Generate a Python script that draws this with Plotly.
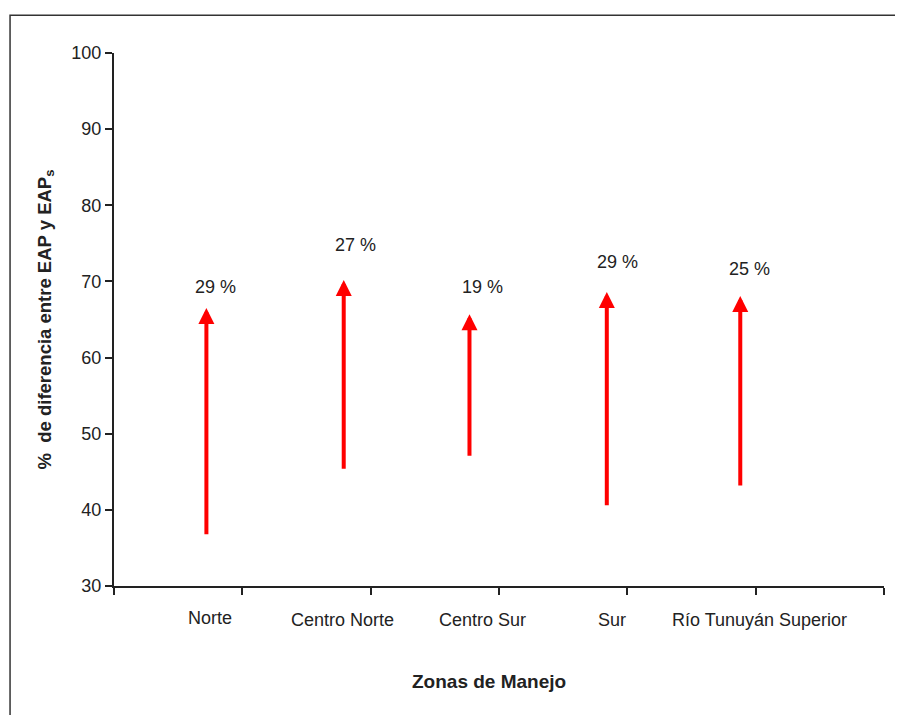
import plotly.graph_objects as go

# Data
zones = ["Norte", "Centro Norte", "Centro Sur", "Sur", "Río Tunuyán Superior"]
zone_label_x = [0.75, 1.78, 2.87, 3.88, 5.03]
arrow_x = [0.72, 1.79, 2.77, 3.84, 4.88]
start_vals = [36.6, 45.2, 46.9, 40.4, 43.0]
end_vals = [66.5, 70.2, 65.7, 68.6, 68.1]
pct_labels = ["29 %", "27 %", "19 %", "29 %", "25 %"]
pct_label_x = [0.79, 1.88, 2.87, 3.92, 4.95]
pct_label_y = [69.3, 74.8, 69.3, 72.6, 71.6]
y_ticks = [30, 40, 50, 60, 70, 80, 90, 100]

FONT = "Liberation Sans, Arial, sans-serif"
TXT = "#222222"

fig = go.Figure()
# invisible trace to establish axes
fig.add_trace(go.Scatter(x=arrow_x, y=end_vals, mode="markers",
                         marker=dict(opacity=0), hoverinfo="skip", showlegend=False))

annotations = []
for xv, s, e in zip(arrow_x, start_vals, end_vals):
    annotations.append(dict(x=xv, y=e, ax=xv, ay=s, xref="x", yref="y",
                            axref="x", ayref="y", text="", showarrow=True,
                            arrowhead=2, arrowsize=0.8, arrowwidth=4,
                            arrowcolor="#ff0000", standoff=0, startstandoff=0))
for xv, yv, t in zip(pct_label_x, pct_label_y, pct_labels):
    annotations.append(dict(x=xv, y=yv, xref="x", yref="y", text=t, showarrow=False,
                            font=dict(family=FONT, size=18, color=TXT)))
for i, (xv, t) in enumerate(zip(zone_label_x, zones)):
    annotations.append(dict(x=xv, y=-0.060 if i == 0 else -0.064, xref="x", yref="paper",
                            yanchor="middle", xanchor="center",
                            text=t, showarrow=False,
                            font=dict(family=FONT, size=18, color=TXT)))
annotations.append(dict(x=0.487, y=-0.180, xref="paper", yref="paper",
                        xanchor="center", yanchor="middle",
                        text="<b>Zonas de Manejo</b>", showarrow=False,
                        font=dict(family=FONT, size=19, color=TXT)))
annotations.append(dict(x=-0.0896, y=0.50, xref="paper", yref="paper",
                        xanchor="center", yanchor="middle",
                        text="<b>%  de diferencia entre EAP y EAP<sub>s</sub></b>",
                        textangle=-90, showarrow=False,
                        font=dict(family=FONT, size=18.5, color=TXT)))

fig.update_layout(
    width=895, height=707,
    margin=dict(l=106, r=19, t=45, b=129),
    paper_bgcolor="white", plot_bgcolor="white",
    showlegend=False,
    annotations=annotations,
    xaxis=dict(range=[0, 6], tickvals=[0, 1, 2, 3, 4, 5, 6], showticklabels=False,
               ticks="outside", ticklen=7, tickwidth=1.5, tickcolor="#222",
               showline=True, linecolor="#222", linewidth=2,
               showgrid=False, zeroline=False, fixedrange=True),
    yaxis=dict(range=[30, 100], tickvals=y_ticks, ticks="outside", ticklen=7,
               tickwidth=1.5, tickcolor="#222", showline=True, linecolor="#222",
               linewidth=2, showgrid=False, zeroline=False,
               tickfont=dict(family=FONT, size=18, color=TXT), fixedrange=True),
    shapes=[dict(type="rect", xref="paper", yref="paper",
                 x0=-0.135, y0=-0.26, x1=1.03, y1=1.071,
                 line=dict(color="#333", width=1.5), layer="below")],
)

fig.write_html("out.html")
